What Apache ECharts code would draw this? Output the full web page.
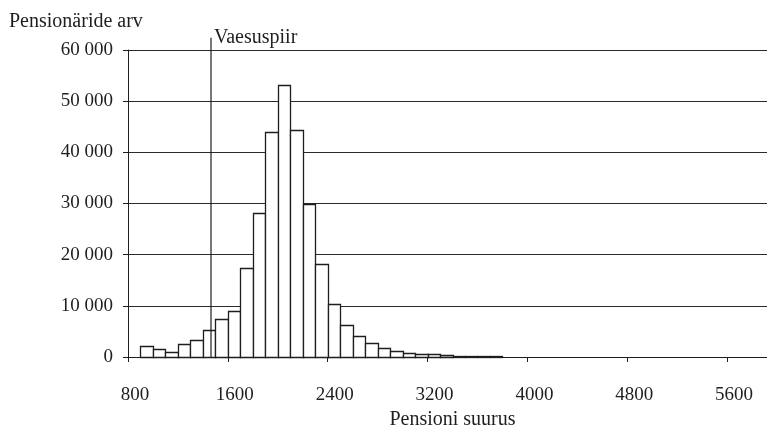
<!DOCTYPE html>
<html>
<head>
<meta charset="utf-8">
<script src="https://cdn.jsdelivr.net/npm/echarts@6/dist/echarts.min.js"></script>
<style>
  html, body { margin: 0; padding: 0; background: #fff; }
  #chart { width: 767px; height: 425px; }
</style>
</head>
<body>
<div id="chart"></div>
<script>
// histogram bins (lower edge) and counts, bin width 100
var binStarts = [900, 1000, 1100, 1200, 1300, 1400, 1500, 1600, 1700, 1800,
  1900, 2000, 2100, 2200, 2300, 2400, 2500, 2600, 2700, 2800,
  2900, 3000, 3100, 3200, 3300, 3400, 3500, 3600, 3700];
var counts = [2100, 1500, 900, 2500, 3400, 5200, 7400, 9000, 17400, 28200,
  44000, 53100, 44400, 30000, 18100, 10300, 6200, 4100, 2750, 1750,
  1200, 850, 550, 500, 300, 250, 250, 200, 200];
var binWidth = 100;

var povertyLine = 1465;
var povertyTop = 62400;

var font = 'Liberation Serif';
var fs = 19;
var fsText = 20;
var ink = '#1e1e1e';

var histData = binStarts.map(function (s, i) {
  return [s, s + binWidth, counts[i]];
});

var chart = echarts.init(document.getElementById('chart'));

chart.setOption({
  animation: false,
  title: {
    text: 'Pensionäride arv',
    left: 9,
    top: 12,
    padding: 0,
    textStyle: { fontFamily: font, fontSize: fsText, fontWeight: 'normal', color: ink }
  },
  grid: { left: 128, right: -10, top: 50, bottom: 68, outerBoundsMode: 'none', containLabel: false },
  xAxis: {
    type: 'value',
    min: 800,
    max: 6000,
    interval: 800,
    name: 'Pensioni suurus',
    nameLocation: 'middle',
    nameGap: 51,
    nameTextStyle: { fontFamily: font, fontSize: fsText, color: ink },
    axisLine: { lineStyle: { color: ink, width: 1 } },
    axisTick: { length: 5, lineStyle: { color: ink } },
    axisLabel: {
      fontFamily: font, fontSize: fs, color: ink, margin: 29,
      padding: [0, 0, 0, 14], showMaxLabel: false,
      formatter: function (v) { return String(v); }
    },
    splitLine: { show: false }
  },
  yAxis: {
    type: 'value',
    min: 0,
    max: 60000,
    interval: 10000,
    axisLine: { show: true, lineStyle: { color: ink, width: 1 } },
    axisTick: { show: true, length: 5, lineStyle: { color: ink } },
    axisLabel: {
      fontFamily: font, fontSize: fs, color: ink, margin: 15,
      formatter: function (v) { return v === 0 ? '0' : (v / 1000) + ' 000'; }
    },
    splitLine: { lineStyle: { color: '#2a2a2a', width: 1 } }
  },
  series: [
    {
      type: 'custom',
      z: 2,
      data: histData,
      encode: { x: [0, 1], y: 2 },
      renderItem: function (params, api) {
        var p0 = api.coord([api.value(0), api.value(2)]);
        var p1 = api.coord([api.value(1), 0]);
        var x0 = Math.round(p0[0]) + 0.5;
        var x1 = Math.round(p1[0]) + 0.5;
        var y0 = Math.round(p0[1]) + 0.5;
        var y1 = Math.round(p1[1]) + 0.5;
        return {
          type: 'rect',
          shape: { x: x0, y: y0, width: x1 - x0, height: y1 - y0 },
          style: { fill: '#fff', stroke: ink, lineWidth: 1.3 }
        };
      }
    },
    {
      type: 'line',
      z: 5,
      clip: false,
      symbol: 'circle',
      symbolSize: 0,
      lineStyle: { color: ink, width: 1.2 },
      data: [
        [povertyLine, 0],
        {
          value: [povertyLine, povertyTop],
          label: {
            show: true, position: 'right', distance: 3,
            formatter: 'Vaesuspiir',
            fontFamily: font, fontSize: fsText, color: ink
          }
        }
      ]
    }
  ]
});
</script>
</body>
</html>
